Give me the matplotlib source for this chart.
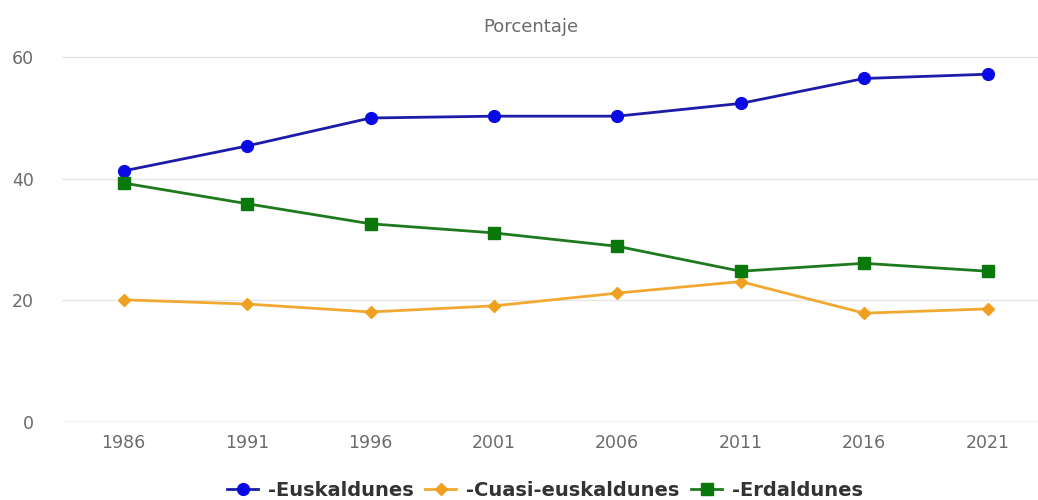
import matplotlib.pyplot as plt
from matplotlib.lines import Line2D

# data
years = ['1986', '1991', '1996', '2001', '2006', '2011', '2016', '2021']
euskaldunes = [41.3, 45.4, 50.0, 50.3, 50.3, 52.4, 56.5, 57.2]
cuasi = [20.1, 19.4, 18.1, 19.1, 21.2, 23.1, 17.9, 18.6]
erdaldunes = [39.3, 35.9, 32.6, 31.1, 28.9, 24.8, 26.1, 24.8]
yticks = [0, 20, 40, 60]

fig = plt.figure(figsize=(10.38, 5.0), dpi=100)
ax = fig.add_axes([62/1038, 78/500, (1038-62)/1038, 62*6.08/500])

x = range(len(years))
ax.plot(x, euskaldunes, color='#1c1ca8', lw=2.0, marker='o', ms=8.5,
        mfc='#0a0ae6', mec='#0a0ae6', zorder=3)
ax.plot(x, cuasi, color='#f2a931', lw=2.0, marker='D', ms=6,
        mfc='#f0a020', mec='#f0a020', zorder=3)
ax.plot(x, erdaldunes, color='#1f7a1f', lw=2.0, marker='s', ms=8.5,
        mfc='#0a780a', mec='#0a780a', zorder=3)

ax.set_xlim(-0.5, -0.5 + (1038-62)/123.4)
ax.set_ylim(0, 62)
ax.set_xticks(list(x))
ax.set_xticklabels(years)
ax.set_yticks(yticks)
ax.tick_params(length=0, labelsize=12.5, labelcolor='#6b6b6b')
ax.tick_params(axis='y', pad=20)
ax.tick_params(axis='x', pad=9)
ax.grid(axis='y', color='#e6e6e6', lw=1)
ax.set_axisbelow(True)
for s in ax.spines.values():
    s.set_visible(False)
ax.axhline(0, color='#d8d8d8', lw=1, zorder=1)

fig.text(531/1038, 1 - 27/500, 'Porcentaje', ha='center', va='center',
         fontsize=13, color='#6b6b6b')

handles = [
    Line2D([], [], color='#1c1ca8', lw=2.0, marker='o', ms=8.5, mfc='#0a0ae6', mec='#0a0ae6'),
    Line2D([], [], color='#f2a931', lw=2.0, marker='D', ms=6, mfc='#f0a020', mec='#f0a020'),
    Line2D([], [], color='#1f7a1f', lw=2.0, marker='s', ms=8.5, mfc='#0a780a', mec='#0a780a'),
]
labels = ['-Euskaldunes', '-Cuasi-euskaldunes', '-Erdaldunes']
fig.legend(handles, labels, loc='center', bbox_to_anchor=(545/1038, 1 - 490/500),
           ncol=3, frameon=False, handlelength=1.6, handletextpad=0.5,
           columnspacing=0.6, prop={'size': 14, 'weight': 'bold'},
           labelcolor='#333333')

fig.savefig('out.png', dpi=100)
